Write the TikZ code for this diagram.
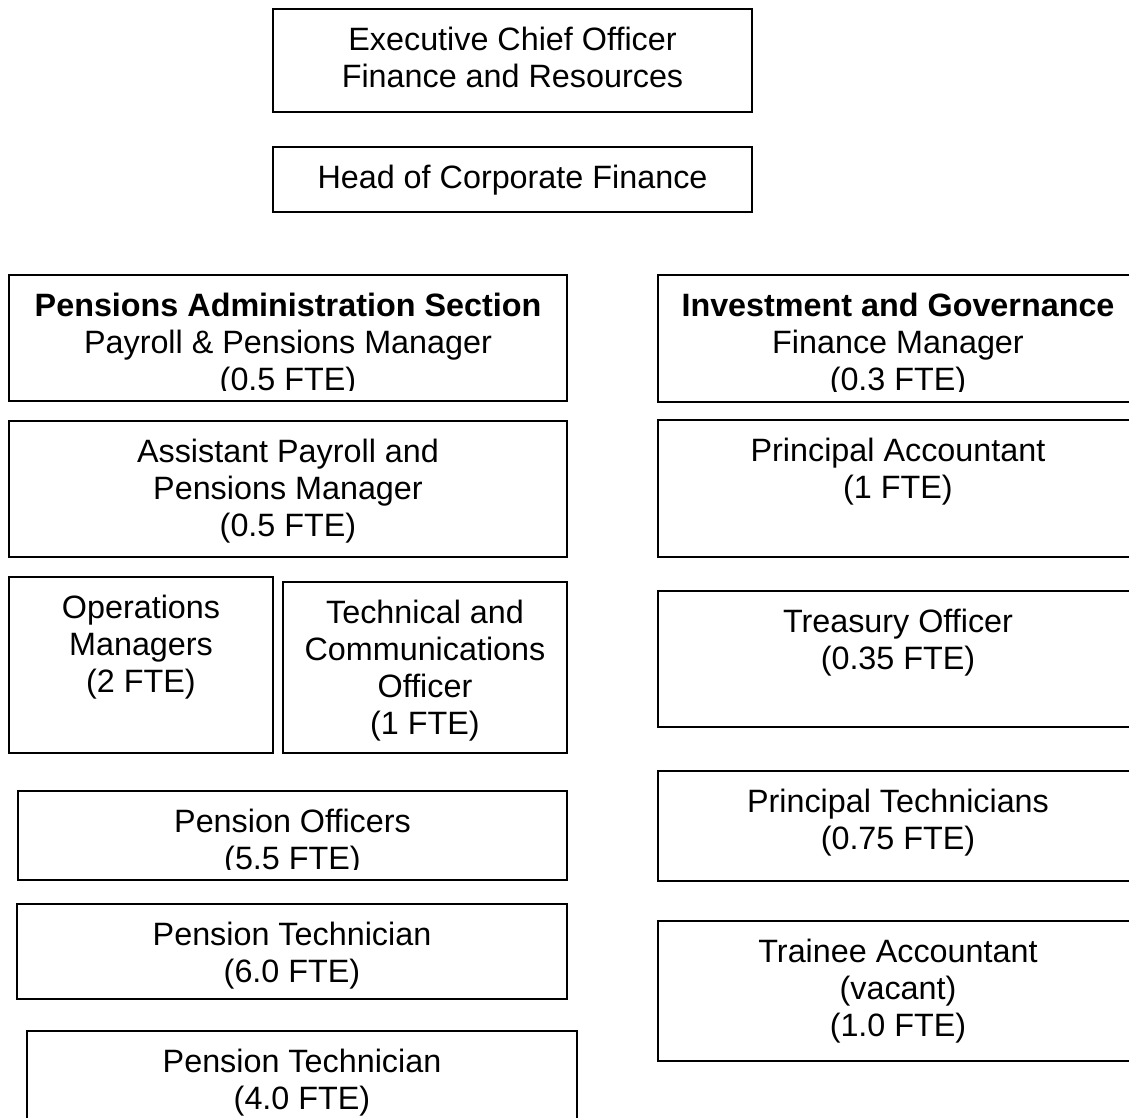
\documentclass[tikz,border=0pt]{standalone}
\usepackage{fontspec}
\setmainfont{Liberation Sans}
\usetikzlibrary{positioning}

\tikzset{
  post/.style={draw=black, line width=1.1pt, inner sep=0pt},
  postname/.style={inner sep=0pt, align=center,
    font=\fontsize{18.4}{21.05}\selectfont},
}

\begin{document}
\begin{tikzpicture}[x=0.02cm, y=-0.02cm]
  \useasboundingbox (0,0) rectangle (1129,1117);
  \clip (0,0) rectangle (1129,1117);
  % top of the chart
  \node[post, minimum width=9.58cm, minimum height=2.06cm] (exec) at (512.5,60.5) {};
  \node[postname, below=0.37cm of exec.north] (exec-t)
    {Executive Chief Officer\\Finance and Resources};
  \node[post, minimum width=9.58cm, minimum height=1.30cm] (head) at (512.5,179.5) {};
  \node[postname, below=0.37cm of head.north] (head-t) {Head of Corporate Finance};

  % pensions administration, left column
  \node[post, minimum width=11.16cm, minimum height=2.52cm] (pas) at (288,338) {};
  \begin{scope}
    \clip (pas.north west) rectangle ([yshift=0.22cm]pas.south east);
    \node[postname, below=0.37cm of pas.north] (pas-t)
      {\textbf{Pensions Administration Section}\\Payroll \& Pensions Manager\\(0.5 FTE)};
  \end{scope}
  \node[post, minimum width=11.16cm, minimum height=2.72cm] (apm) at (288,489) {};
  \node[postname, below=0.37cm of apm.north] (apm-t)
    {Assistant Payroll and\\Pensions Manager\\(0.5 FTE)};
  \node[post, minimum width=5.28cm, minimum height=3.52cm] (ops) at (141,665) {};
  \node[postname, below=0.37cm of ops.north] (ops-t) {Operations\\Managers\\(2 FTE)};
  \node[post, minimum width=5.68cm, minimum height=3.42cm] (tco) at (425,667.5) {};
  \node[postname, below=0.37cm of tco.north] (tco-t)
    {Technical and\\Communications\\Officer\\(1 FTE)};
  \node[post, minimum width=10.98cm, minimum height=1.78cm] (po) at (292.5,835.5) {};
  \begin{scope}
    \clip (po.north west) rectangle ([yshift=0.22cm]po.south east);
    \node[postname, below=0.37cm of po.north] (po-t) {Pension Officers\\(5.5 FTE)};
  \end{scope}
  \node[post, minimum width=11.0cm, minimum height=1.90cm] (pt6) at (292,951.5) {};
  \node[postname, below=0.37cm of pt6.north] (pt6-t) {Pension Technician\\(6.0 FTE)};
  \node[post, minimum width=11.0cm, minimum height=2.18cm] (pt4) at (302,1085.5) {};
  \node[postname, below=0.37cm of pt4.north] (pt4-t) {Pension Technician\\(4.0 FTE)};

  % investment and governance, right column
  \node[post, minimum width=9.6cm, minimum height=2.54cm] (ig) at (898,338.5) {};
  \begin{scope}
    \clip (ig.north west) rectangle ([yshift=0.22cm]ig.south east);
    \node[postname, below=0.37cm of ig.north] (ig-t)
      {\textbf{Investment and Governance}\\Finance Manager\\(0.3 FTE)};
  \end{scope}
  \node[post, minimum width=9.6cm, minimum height=2.74cm] (pa) at (898,488.5) {};
  \node[postname, below=0.37cm of pa.north] (pa-t) {Principal Accountant\\(1 FTE)};
  \node[post, minimum width=9.6cm, minimum height=2.72cm] (to) at (898,659) {};
  \node[postname, below=0.37cm of to.north] (to-t) {Treasury Officer\\(0.35 FTE)};
  \node[post, minimum width=9.6cm, minimum height=2.2cm] (ptech) at (898,826) {};
  \node[postname, below=0.37cm of ptech.north] (ptech-t) {Principal Technicians\\(0.75 FTE)};
  \node[post, minimum width=9.6cm, minimum height=2.8cm] (ta) at (898,991) {};
  \node[postname, below=0.37cm of ta.north] (ta-t)
    {Trainee Accountant\\(vacant)\\(1.0 FTE)};
\end{tikzpicture}
\end{document}
